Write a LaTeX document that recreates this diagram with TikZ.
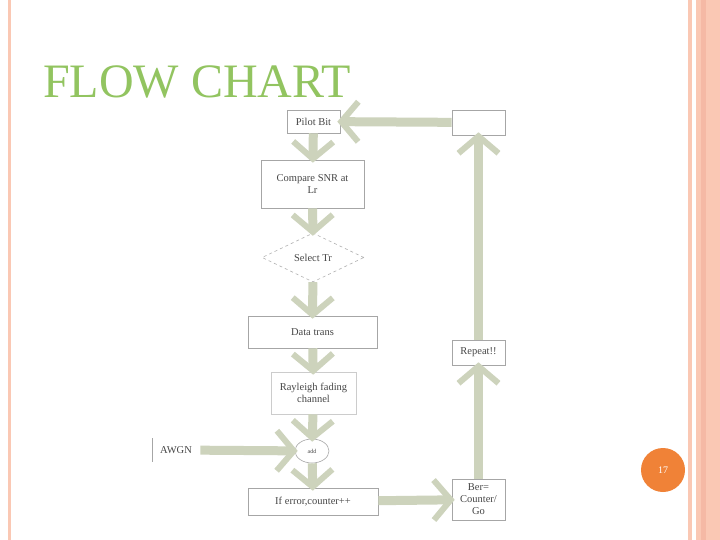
\documentclass[tikz,border=0pt]{standalone}
\usepackage{fontspec}
\setmainfont{Liberation Serif}
\usetikzlibrary{arrows.meta,shapes.geometric}
\definecolor{sage}{RGB}{205,211,188}
\definecolor{pinkl}{RGB}{250,200,180}
\definecolor{pinkd}{RGB}{245,185,165}
\definecolor{titleg}{RGB}{146,196,96}
\definecolor{orng}{RGB}{240,130,55}
\definecolor{txt}{RGB}{70,70,70}
\begin{document}
\begin{tikzpicture}[x=1pt,y=1pt,
  box/.style={draw=gray!70,line width=0.6pt,inner sep=0pt,font=\fontsize{10.5}{12}\selectfont,text=txt,align=center},
  blk/.style={draw=sage,line width=9pt,-{Straight Barb[length=17pt,width=40pt,line width=6pt]},shorten >=-3pt}]
\useasboundingbox (0,0) rectangle (720,-540);
\fill[white] (0,0) rectangle (720,-540);
% borders
\fill[pinkl] (8,0) rectangle (11,-540);
\fill[pinkl] (688,0) rectangle (692,-540);
\fill[pinkl] (696,0) rectangle (720,-540);
\fill[pinkd] (701,0) rectangle (706,-540);
% title
\node[anchor=base west,text=titleg,font=\fontsize{48}{52}\selectfont,inner sep=0pt] (title) at (43,-98) {FLOW CHART};
% page number
\node[circle,fill=orng,minimum size=44pt,inner sep=0pt,text=white,font=\fontsize{10}{12}\selectfont] (pg) at (663,-470) {17};
% nodes
\node[box,minimum width=53pt,minimum height=23pt] (pilot) at (313.5,-121.5) {Pilot Bit};
\node[box,minimum width=53pt,minimum height=25pt] (empty) at (478.5,-122.5) {};
\node[box,minimum width=103pt,minimum height=48pt] (snr) at (312.5,-184) {Compare SNR at\\Lr};
\node[box,diamond,aspect=2.1,minimum width=102pt,minimum height=49pt,dashed,draw=gray!60] (sel) at (313,-257.5) {Select Tr};
\node[box,minimum width=129pt,minimum height=32pt] (data) at (312.5,-332) {Data trans};
\node[box,minimum width=85pt,minimum height=42pt,draw=gray!40] (ray) at (313.5,-393) {Rayleigh fading\\channel};
\node[box,ellipse,minimum width=34pt,minimum height=24pt,font=\fontsize{6}{7}\selectfont] (add) at (312,-451) {add};
\node[box,minimum width=48pt,minimum height=24pt,draw=none] (awgn) at (176,-450) {AWGN};
\draw[gray!70,line width=0.6pt] (152,-438) -- (152,-462);
\node[box,minimum width=130pt,minimum height=27pt] (err) at (313,-501.5) {If error,counter++};
\node[box,minimum width=53pt,minimum height=41pt] (ber) at (478.5,-499.5) {Ber=\\Counter/\\Go};
\node[box,minimum width=53pt,minimum height=25pt] (rep) at (478.5,-352.5) {Repeat!!};
% block arrows
\draw[blk] (pilot) -- (snr);
\draw[blk] (snr) -- (sel);
\draw[blk] (sel) -- (data);
\draw[blk] (data) -- (ray);
\draw[blk] (ray) -- (add);
\draw[blk] (add) -- (err);
\draw[blk] (awgn) -- (add);
\draw[blk] (err) -- (ber);
\draw[blk] (ber) -- (rep);
\draw[blk] (rep) -- (empty);
\draw[blk] (empty) -- (pilot);
\end{tikzpicture}
\end{document}
